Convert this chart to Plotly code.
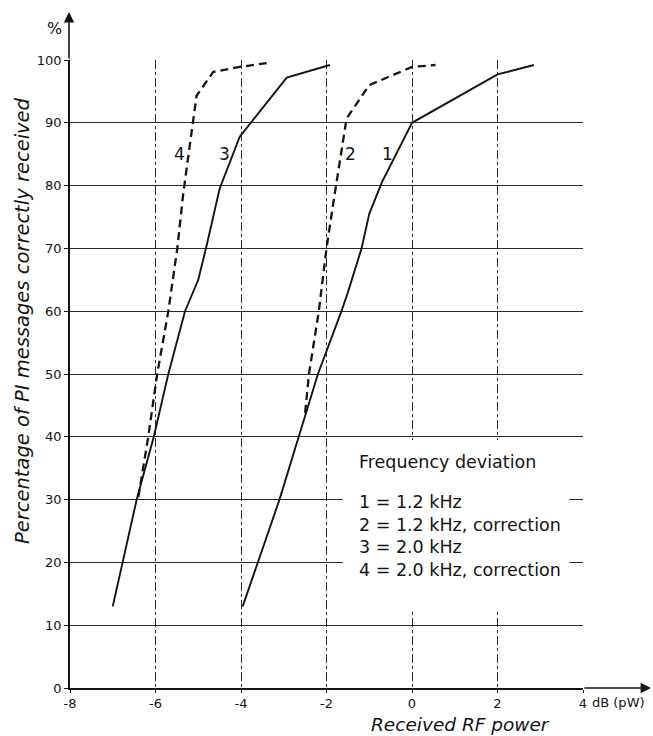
import plotly.graph_objects as go

# ---- data ----
curve1_x = [-3.96, -3.6, -3.1, -2.65, -2.2, -1.65, -1.5, -1.18, -1.0, -0.7, 0.0, 2.0, 2.85]
curve1_y = [13, 20, 30, 40, 50, 60, 63, 70, 75.5, 80.6, 90, 97.7, 99.2]

curve2_x = [-2.5, -2.41, -2.18, -2.0, -1.83, -1.53, -1.0, 0.0, 0.55]
curve2_y = [43.8, 50, 60, 70, 77.7, 90.7, 96.0, 98.9, 99.2]

curve3_x = [-7.0, -6.75, -6.44, -6.04, -5.7, -5.31, -5.0, -4.82, -4.5, -4.03, -2.93, -1.92]
curve3_y = [13, 20.4, 30, 40, 50, 60, 65, 70, 79.5, 87.8, 97.2, 99.2]

curve4_x = [-6.4, -6.17, -5.96, -5.7, -5.49, -5.35, -5.04, -4.65, -4.03, -3.4]
curve4_y = [30.4, 40, 50, 60, 70, 78.8, 94.3, 98.1, 98.9, 99.5]

curve_ids = ["1", "2", "3", "4"]
curve_label_x = [-0.57, -1.45, -4.38, -5.43]
curve_label_y = [85, 85, 85, 85]

x_ticks = [-8, -6, -4, -2, 0, 2, 4]
x_ticktext = ["-8", "-6", "-4", "-2", "0", "2", "4"]
y_ticks = [0, 10, 20, 30, 40, 50, 60, 70, 80, 90, 100]

legend_title = "Frequency deviation"
legend_lines = ["1 = 1.2 kHz", "2 = 1.2 kHz, correction", "3 = 2.0 kHz", "4 = 2.0 kHz, correction"]

x_title = "Received RF power"
y_title = "Percentage of PI messages correctly received"
x_unit = "dB (pW)"
y_unit = "%"

# ---- figure ----
W, H = 653, 736
ML, MR, MT, MB = 70, 70, 60, 48
PW, PH = W - ML - MR, H - MT - MB

def px2paper(px, py):
    return (px - ML) / PW, (H - MB - py) / PH

INK = "#141414"
FONT = "DejaVu Sans"

fig = go.Figure()
solid = dict(color=INK, width=1.9)
dashed = dict(color=INK, width=2.3, dash="8px,5px")
for xs, ys, ln, nm in [(curve1_x, curve1_y, solid, "1"), (curve2_x, curve2_y, dashed, "2"),
                       (curve3_x, curve3_y, solid, "3"), (curve4_x, curve4_y, dashed, "4")]:
    fig.add_trace(go.Scatter(x=xs, y=ys, mode="lines", line=ln, name=nm,
                             showlegend=False, hoverinfo="skip"))

# white box behind the key text (grid interrupted there)
fig.add_shape(type="rect", xref="x", yref="y", x0=-1.62, x1=3.68, y0=12.5, y1=39.5,
              fillcolor="white", line=dict(width=0), layer="above")

ann = []
for t, lx, ly in zip(curve_ids, curve_label_x, curve_label_y):
    ann.append(dict(x=lx, y=ly, xref="x", yref="y", text=t, showarrow=False,
                    xanchor="center", yanchor="middle",
                    font=dict(family=FONT, size=17, color=INK)))

lx0, _ = px2paper(357, 0)
leg_py = [461.7, 501.7, 524.5, 546.7, 569.5]
for t, py in zip([legend_title] + legend_lines, leg_py):
    _, yy = px2paper(0, py)
    ann.append(dict(x=lx0, y=yy, xref="paper", yref="paper", text=t, showarrow=False,
                    xanchor="left", yanchor="middle",
                    font=dict(family=FONT, size=17.5, color=INK)))

# axis arrows
tx, ty = px2paper(651, H - MB)
ann.append(dict(x=tx, y=ty, xref="paper", yref="paper", ax=-(651 - (W - MR)), ay=0,
                text="", showarrow=True, arrowhead=2, arrowsize=1.3, arrowwidth=1.6,
                arrowcolor=INK, standoff=0))
tx, ty = px2paper(ML - 1, 12)
ann.append(dict(x=tx, y=ty, xref="paper", yref="paper", ax=0, ay=MT - 12,
                text="", showarrow=True, arrowhead=2, arrowsize=1.3, arrowwidth=1.6,
                arrowcolor=INK, standoff=0))

# units and titles
ux, uy = px2paper(54, 28)
ann.append(dict(x=ux, y=uy, xref="paper", yref="paper", text=y_unit, showarrow=False,
                xanchor="center", yanchor="middle",
                font=dict(family=FONT, size=16, color=INK)))
ux, uy = px2paper(590, 702)
ann.append(dict(x=ux, y=uy, xref="paper", yref="paper", text=x_unit, showarrow=False,
                xanchor="left", yanchor="middle", font=dict(family=FONT, size=13, color=INK)))
tx, ty = px2paper(460, 724)
ann.append(dict(x=tx, y=ty, xref="paper", yref="paper", text="<i>" + x_title + "</i>",
                showarrow=False, xanchor="center", yanchor="middle",
                font=dict(family=FONT, size=18.5, color=INK)))
tx, ty = px2paper(22, 321)
ann.append(dict(x=tx, y=ty, xref="paper", yref="paper", text="<i>" + y_title + "</i>",
                showarrow=False, textangle=-90, xanchor="center", yanchor="middle",
                font=dict(family=FONT, size=19.5, color=INK)))

fig.update_layout(
    width=W, height=H, autosize=False,
    margin=dict(l=ML, r=MR, t=MT, b=MB, pad=0),
    paper_bgcolor="white", plot_bgcolor="white",
    showlegend=False,
    annotations=ann,
    xaxis=dict(range=[-8, 4], tickmode="array", tickvals=x_ticks, ticktext=x_ticktext,
               showgrid=True, gridcolor="#2a2a2a", gridwidth=1, griddash="dashdot",
               zeroline=False, showline=True, linecolor=INK, linewidth=1.6,
               ticks="outside", ticklen=3, tickcolor=INK,
               tickfont=dict(family=FONT, size=13, color=INK), fixedrange=True),
    yaxis=dict(range=[0, 100], tickmode="array", tickvals=y_ticks,
               showgrid=True, gridcolor="#2a2a2a", gridwidth=1.1,
               zeroline=False, showline=True, linecolor=INK, linewidth=1.6,
               ticks="outside", ticklen=4, tickcolor=INK,
               tickfont=dict(family=FONT, size=13, color=INK), fixedrange=True),
)

fig.write_html("out.html")
